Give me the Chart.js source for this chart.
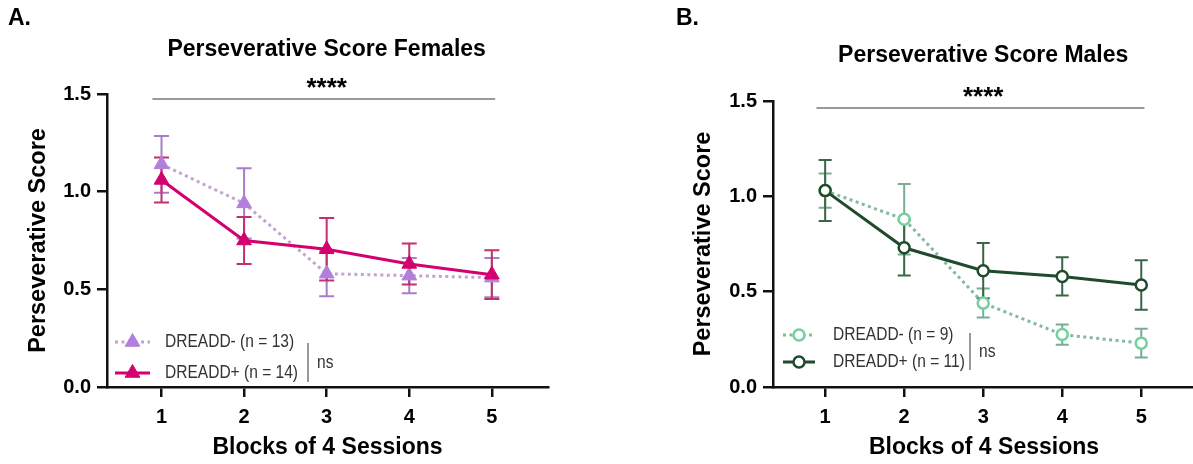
<!DOCTYPE html>
<html>
<head>
<meta charset="utf-8">
<script src="https://cdn.jsdelivr.net/npm/chart.js@4.4.1/dist/chart.umd.min.js"></script>
<style>
    html, body { margin: 0; padding: 0; background: #fff; overflow: hidden; }
    #wrap { position: relative; width: 1193px; height: 464px; overflow: hidden; }
    canvas { position: absolute; top: 0; }
    #femalesChart { left: 0; }
    #malesChart { left: 596px; }
</style>
</head>
<body>
<div id="wrap">
    <canvas id="femalesChart" width="596" height="464"></canvas>
    <canvas id="malesChart" width="607" height="464"></canvas>
</div>
<script>
// x categories (blocks of 4 sessions) and y ticks
const blocks = [1, 2, 3, 4, 5];
const yTicks = [0, 0.5, 1.0, 1.5];

// Females (panel A): mean and SEM
const femaleNegMean = [1.14, 0.94, 0.58, 0.57, 0.56];
const femaleNegSem = [0.145, 0.18, 0.115, 0.09, 0.10];
const femalePosMean = [1.06, 0.75, 0.705, 0.63, 0.575];
const femalePosSem = [0.115, 0.12, 0.16, 0.105, 0.125];

// Males (panel B)
const maleNegMean = [1.03, 0.88, 0.44, 0.275, 0.23];
const maleNegSem = [0.09, 0.185, 0.076, 0.053, 0.075];
const malePosMean = [1.03, 0.73, 0.61, 0.58, 0.535];
const malePosSem = [0.16, 0.145, 0.145, 0.10, 0.13];

const femaleLabels = ["DREADD- (n = 13)", "DREADD+ (n = 14)"];
const maleLabels = ["DREADD- (n = 9)", "DREADD+ (n = 11)"];

const BOLD = "'Liberation Sans', Arial, sans-serif";

function points(means) {
    return blocks.map((b, i) => ({ x: b, y: means[i] }));
}

// legend text in the figure is a condensed face, squeeze it a bit
function narrowText(ctx, text, x, y) {
    ctx.save();
    ctx.translate(x, y);
    ctx.scale(0.84, 1);
    ctx.textAlign = "left";
    ctx.textBaseline = "middle";
    ctx.font = `18.5px ${BOLD}`;
    ctx.fillText(text, 0, 0);
    ctx.restore();
}

const errorBars = {
    id: "errorBars",
    beforeDatasetsDraw(chart) {
        const { ctx, scales: { x, y } } = chart;
        chart.data.datasets.forEach((ds) => {
            if (!ds.errors) return;
            ctx.save();
            ctx.strokeStyle = ds.errorColor;
            ctx.lineWidth = 2;
            ds.data.forEach((pt, j) => {
                const px = x.getPixelForValue(pt.x);
                const top = y.getPixelForValue(pt.y + ds.errors[j]);
                const bot = y.getPixelForValue(pt.y - ds.errors[j]);
                const c = ds.capHalf;
                ctx.beginPath();
                ctx.moveTo(px, top); ctx.lineTo(px, bot);
                ctx.moveTo(px - c, top); ctx.lineTo(px + c, top);
                ctx.moveTo(px - c, bot); ctx.lineTo(px + c, bot);
                ctx.stroke();
            });
            ctx.restore();
        });
    },
};

function drawMarker(ctx, ds, x, y) {
    ctx.save();
    ctx.fillStyle = ds.pointBackgroundColor;
    ctx.strokeStyle = ds.pointBorderColor;
    ctx.lineWidth = ds.pointBorderWidth;
    ctx.beginPath();
    if (ds.pointStyle === "triangle") {
        const r = ds.pointRadius;
        ctx.moveTo(x, y - r);
        ctx.lineTo(x + r * 0.866, y + r * 0.5);
        ctx.lineTo(x - r * 0.866, y + r * 0.5);
        ctx.closePath();
    } else {
        ctx.arc(x, y, ds.pointRadius, 0, Math.PI * 2);
    }
    ctx.fill();
    ctx.stroke();
    ctx.restore();
}

function decor(opts) {
    return {
        id: "decor",
        afterDraw(chart) {
            const { ctx, chartArea: area, scales: { x } } = chart;
            const mid = x.getPixelForValue(3);
            ctx.save();
            ctx.fillStyle = "#000";
            ctx.textBaseline = "middle";

            // panel letter
            ctx.textAlign = "left";
            ctx.font = `bold 23px ${BOLD}`;
            ctx.fillText(opts.letter, opts.letterX, 19);

            // title
            ctx.textAlign = "center";
            ctx.font = `bold 23px ${BOLD}`;
            ctx.fillText(opts.title, mid, opts.titleY);

            // significance line + stars
            ctx.strokeStyle = "#777";
            ctx.lineWidth = 1.5;
            ctx.beginPath();
            ctx.moveTo(x.getPixelForValue(0.89), opts.sigY);
            ctx.lineTo(x.getPixelForValue(5.04), opts.sigY);
            ctx.stroke();
            ctx.font = `bold 26px ${BOLD}`;
            ctx.fillText("****", mid, opts.sigY - 10);

            // legend
            const ds = chart.data.datasets;
            const x0 = area.left + opts.legX0;
            const x1 = area.left + opts.legX1;
            opts.legRows.forEach((ry, i) => {
                const d = ds[i];
                ctx.save();
                ctx.strokeStyle = d.borderColor;
                ctx.lineWidth = d.borderWidth;
                ctx.setLineDash(d.borderDash || []);
                ctx.beginPath();
                ctx.moveTo(x0, ry); ctx.lineTo(x1, ry);
                ctx.stroke();
                ctx.restore();
                drawMarker(ctx, d, (x0 + x1) / 2, ry);
                ctx.fillStyle = "#333";
                narrowText(ctx, d.label, area.left + opts.legText, ry);
            });

            // ns bracket
            ctx.strokeStyle = "#777";
            ctx.lineWidth = 1.5;
            ctx.beginPath();
            ctx.moveTo(area.left + opts.nsX, opts.nsTop);
            ctx.lineTo(area.left + opts.nsX, opts.nsBot);
            ctx.stroke();
            ctx.fillStyle = "#333";
            narrowText(ctx, "ns", area.left + opts.nsX + 9, (opts.nsTop + opts.nsBot) / 2);
            ctx.restore();
        },
    };
}

function makeChart(canvasId, datasets, layout, decorOpts) {
    return new Chart(document.getElementById(canvasId), {
        type: "line",
        data: { datasets },
        options: {
            responsive: false,
            animation: false,
            events: [],
            layout: { padding: { top: layout.top, right: layout.right, left: 0, bottom: 0 } },
            plugins: { legend: { display: false }, tooltip: { enabled: false } },
            scales: {
                x: {
                    type: "linear",
                    min: 0.34,
                    max: 5.68,
                    afterFit: (s) => { s.height = 464 - layout.bottom; },
                    afterBuildTicks: (s) => { s.ticks = blocks.map((v) => ({ value: v })); },
                    grid: { drawOnChartArea: false, drawTicks: true, tickLength: 10, color: "#111", lineWidth: 2.5 },
                    border: { display: true, color: "#111", width: 2.5 },
                    ticks: { color: "#000", padding: 8, font: { family: BOLD, size: 20, weight: "bold" } },
                    title: {
                        display: true,
                        text: "Blocks of 4 Sessions",
                        color: "#000",
                        font: { family: BOLD, size: 23, weight: "bold" },
                        padding: { top: 0, bottom: 3 },
                    },
                },
                y: {
                    min: 0,
                    max: 1.5,
                    afterFit: (s) => { s.width = layout.left; },
                    afterBuildTicks: (s) => { s.ticks = yTicks.map((v) => ({ value: v })); },
                    grid: { drawOnChartArea: false, drawTicks: true, tickLength: 10, color: "#111", lineWidth: 2.5 },
                    border: { display: true, color: "#111", width: 2.5 },
                    ticks: {
                        color: "#000",
                        padding: 6,
                        font: { family: BOLD, size: 20, weight: "bold" },
                        callback: (v) => Number(v).toFixed(1),
                    },
                    title: {
                        display: true,
                        text: "Perseverative Score",
                        color: "#000",
                        font: { family: BOLD, size: 23.5, weight: "bold" },
                        padding: { top: layout.yTitle, bottom: 0 },
                    },
                },
            },
        },
        plugins: [errorBars, decor(decorOpts)],
    });
}

makeChart("femalesChart", [
    {
        label: femaleLabels[0],
        data: points(femaleNegMean),
        errors: femaleNegSem,
        errorColor: "#a97cc9",
        capHalf: 7.5,
        borderColor: "#c4a4cf",
        borderWidth: 3,
        borderDash: [3, 3.5],
        pointStyle: "triangle",
        pointRadius: 8.5,
        pointBackgroundColor: "#b27fdb",
        pointBorderColor: "#b27fdb",
        pointBorderWidth: 1,
        order: 2,
    },
    {
        label: femaleLabels[1],
        data: points(femalePosMean),
        errors: femalePosSem,
        errorColor: "#c2306e",
        capHalf: 7.5,
        borderColor: "#d5006f",
        borderWidth: 3,
        pointStyle: "triangle",
        pointRadius: 8.5,
        pointBackgroundColor: "#d5006f",
        pointBorderColor: "#d5006f",
        pointBorderWidth: 1,
        order: 1,
    },
], { top: 94, right: 48, left: 107, bottom: 387, yTitle: 24 }, {
    letter: "A.", letterX: 8, title: "Perseverative Score Females", titleY: 50, sigY: 99,
    legX0: 8, legX1: 43, legText: 58, legRows: [342, 373],
    nsX: 201, nsTop: 343, nsBot: 382,
});

makeChart("malesChart", [
    {
        label: maleLabels[0],
        data: points(maleNegMean),
        errors: maleNegSem,
        errorColor: "#79ad92",
        capHalf: 6.5,
        borderColor: "#82b99f",
        borderWidth: 3,
        borderDash: [3, 3.5],
        pointStyle: "circle",
        pointRadius: 5.5,
        pointBackgroundColor: "#ffffff",
        pointBorderColor: "#72d19e",
        pointBorderWidth: 2.5,
        order: 2,
    },
    {
        label: maleLabels[1],
        data: points(malePosMean),
        errors: malePosSem,
        errorColor: "#3a6546",
        capHalf: 6.5,
        borderColor: "#1f4a2b",
        borderWidth: 3,
        pointStyle: "circle",
        pointRadius: 5.5,
        pointBackgroundColor: "#ffffff",
        pointBorderColor: "#1f4a2b",
        pointBorderWidth: 2.5,
        order: 1,
    },
], { top: 101, right: 0, left: 177, bottom: 387, yTitle: 93 }, {
    letter: "B.", letterX: 80, title: "Perseverative Score Males", titleY: 56, sigY: 108,
    legX0: 10, legX1: 42, legText: 60, legRows: [335, 362],
    nsX: 197, nsTop: 333, nsBot: 370,
});
</script>
</body>
</html>
